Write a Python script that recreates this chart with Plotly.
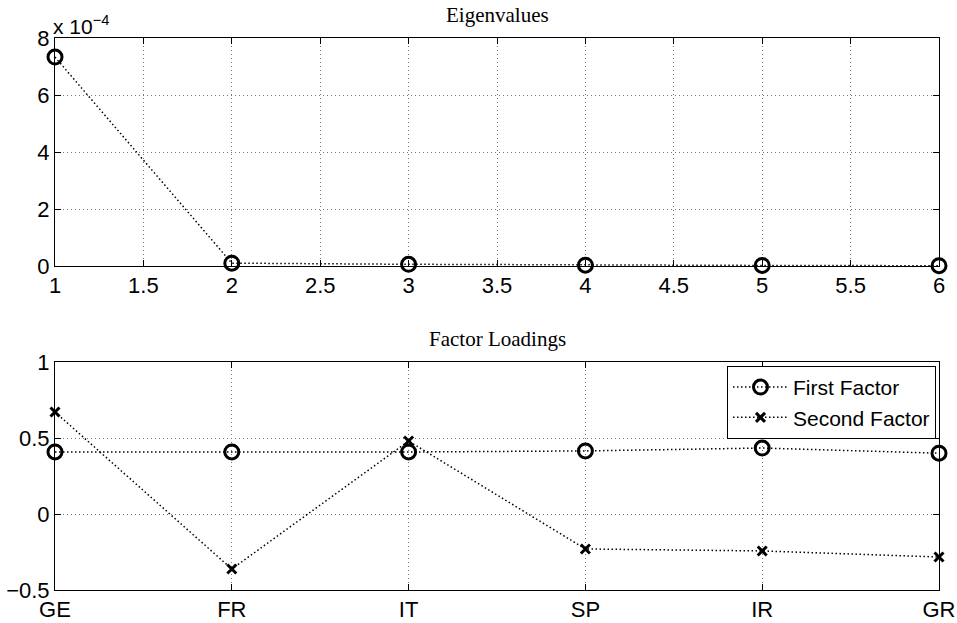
import plotly.graph_objects as go

# ---- data ----
eig_index = [1, 2, 3, 4, 5, 6]
eigenvalues = [7.33e-4, 0.10e-4, 0.06e-4, 0.03e-4, 0.02e-4, 0.01e-4]
eig_xticks = [1, 1.5, 2, 2.5, 3, 3.5, 4, 4.5, 5, 5.5, 6]
eig_yticks = [0, 2e-4, 4e-4, 6e-4, 8e-4]
eig_yticklabels = ["0", "2", "4", "6", "8"]

countries = ["GE", "FR", "IT", "SP", "IR", "GR"]
country_pos = [1, 2, 3, 4, 5, 6]
first_factor = [0.408, 0.408, 0.408, 0.415, 0.434, 0.400]
second_factor = [0.671, -0.362, 0.480, -0.230, -0.243, -0.283]
load_yticks = [-0.5, 0, 0.5, 1]
load_yticklabels = ["\u22120.5", "0", "0.5", "1"]

W, H = 957, 623
L, R, T, B = 55, 18, 38, 33
plot_h = H - T - B
top_dom = [(590 - 266) / plot_h, 1.0]
bot_dom = [0.0, 228 / plot_h]

fig = go.Figure()

sans = "Liberation Sans, Arial, sans-serif"
tick_font = dict(family=sans, size=22, color="black")
line_style = dict(color="black", width=1.5, dash="1.5px,2.5px")
circ = dict(symbol="circle-open", size=14, color="black", line=dict(width=3, color="black"))
cross = dict(symbol="x-thin-open", size=9, color="black", line=dict(width=3, color="black"))

fig.add_trace(go.Scatter(x=eig_index, y=eigenvalues, mode="lines+markers",
                         line=line_style, marker=circ, showlegend=False,
                         xaxis="x", yaxis="y", cliponaxis=False))
fig.add_trace(go.Scatter(x=country_pos, y=first_factor, mode="lines+markers",
                         line=line_style, marker=circ, name="First Factor",
                         xaxis="x2", yaxis="y2", cliponaxis=False))
fig.add_trace(go.Scatter(x=country_pos, y=second_factor, mode="lines+markers",
                         line=line_style, marker=cross, name="Second Factor",
                         xaxis="x2", yaxis="y2", cliponaxis=False))

ax_common = dict(showline=True, linecolor="black", linewidth=1, mirror="ticks",
                 ticks="inside", ticklen=6, tickcolor="black", tickwidth=1,
                 showgrid=True, gridcolor="#777", griddash="1px,3px", gridwidth=1,
                 zeroline=False, tickfont=tick_font, automargin=False)

fig.update_layout(
    width=W, height=H,
    margin=dict(l=L, r=R, t=T, b=B),
    plot_bgcolor="white", paper_bgcolor="white",
    xaxis=dict(domain=[0, 1], anchor="y", range=[1, 6], tickmode="array",
               tickvals=eig_xticks, ticktext=[f"{v:g}" for v in eig_xticks], **ax_common),
    yaxis=dict(domain=top_dom, anchor="x", range=[0, 8e-4], tickmode="array",
               tickvals=eig_yticks, ticktext=eig_yticklabels, **ax_common),
    xaxis2=dict(domain=[0, 1], anchor="y2", range=[1, 6], tickmode="array",
                tickvals=country_pos, ticktext=countries, **ax_common),
    yaxis2=dict(domain=bot_dom, anchor="x2", range=[-0.5, 1], tickmode="array",
                tickvals=load_yticks, ticktext=load_yticklabels, **ax_common),
    legend=dict(x=0.9966, xanchor="right", y=0.406, yanchor="top",
                bgcolor="white", bordercolor="black", borderwidth=1,
                font=dict(family=sans, size=21, color="black"),
                tracegroupgap=0, itemwidth=55),
    showlegend=True,
)

title_font = dict(family="Liberation Serif, Times New Roman, serif", size=21, color="black")
fig.add_annotation(text="Eigenvalues", xref="paper", yref="paper", x=0.5, y=1,
                   yanchor="bottom", xanchor="center", showarrow=False, font=title_font, yshift=9)
fig.add_annotation(text="Factor Loadings", xref="paper", yref="paper", x=0.5, y=bot_dom[1],
                   yanchor="bottom", xanchor="center", showarrow=False, font=title_font, yshift=9)
fig.add_annotation(text="x 10<sup>\u22124</sup>", xref="paper", yref="paper", x=0, y=1,
                   xanchor="left", yanchor="bottom", showarrow=False, xshift=-4, yshift=-2,
                   font=dict(family=sans, size=21, color="black"))

fig.write_html("out.html", config={"displayModeBar": False},
               post_script="document.body.style.margin='0';document.body.style.overflow='hidden';")
